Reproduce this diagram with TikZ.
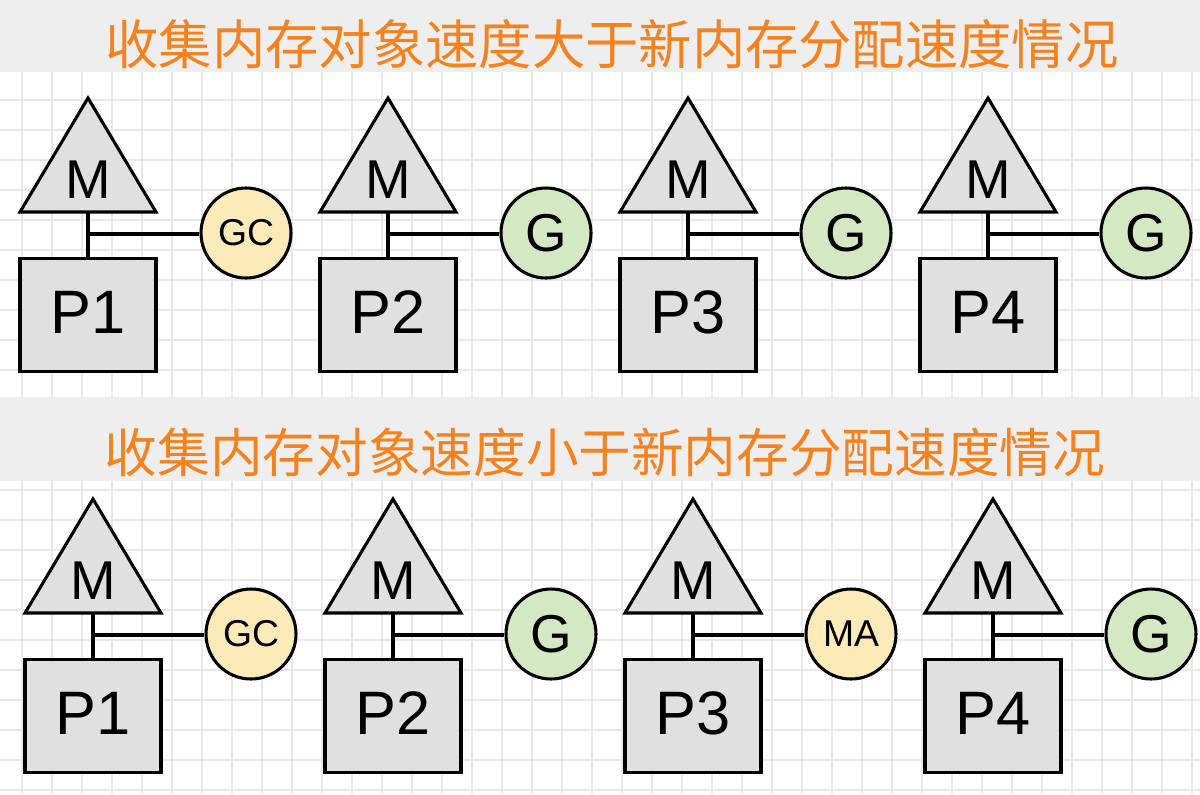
\documentclass[tikz,border=0pt]{standalone}
\usepackage{fontspec}
\setmainfont{Liberation Sans}
\newfontfamily\cjk{Noto Sans CJK SC}
\definecolor{ttl}{HTML}{F5821F}
\definecolor{band}{HTML}{EEEEEE}
\definecolor{gridc}{HTML}{E8E8E8}
\definecolor{shp}{HTML}{E0E0E0}
\definecolor{yel}{HTML}{FCEBB8}
\definecolor{grn}{HTML}{D3E8C3}
\tikzset{
 shape line/.style={draw=black,line width=2.3pt,fill=shp},
 pbox/.style={shape line,rectangle,minimum width=136\pxu,minimum height=113\pxu,inner sep=0pt,font=\fontsize{46pt}{46pt}\selectfont},
 gnode/.style={circle,draw=black,line width=2.3pt,minimum size=90\pxu,inner sep=0pt},
 link/.style={line width=2.3pt},
 title/.style={text=ttl,font=\cjk\fontsize{40pt}{40pt}\selectfont}
}
\newcommand\pxu{*0.75pt}
\newcommand\myunit[6]{% #1 x, #2 y(base of triangle), #3 name, #4 label, #5 fill, #6 font size
 \draw[shape line,line join=miter] (#1,#2-114) -- (#1+68,#2) -- (#1-68,#2) -- cycle;
 \node[font=\fontsize{41pt}{41pt}\selectfont] (m#3) at (#1,#2-32) {M};
 \coordinate (mb#3) at (#1,#2);
 \node[pbox,anchor=north,text depth=0pt,text height=0pt] (p#3) at (#1,#2+45) {\raisebox{-0.3em}{P#3}};
 \coordinate (j#3) at (#1,#2+22);
 \node[gnode,fill=#5,font=\fontsize{#6}{#6}\selectfont] (g#3) at (#1+158,#2+21) {#4};
 \draw[link] (mb#3) -- (p#3.north);
 \draw[link] (j#3) -- (g#3.west |- j#3);
}
\begin{document}
\begin{tikzpicture}[x=0.75pt,y=-0.75pt]
\useasboundingbox (0,0) rectangle (1200,794);
\fill[white] (0,0) rectangle (1200,794);
\foreach \x in {22,52,...,1200} \draw[gridc,line width=1pt] (\x,72) -- (\x,397) (\x,481) -- (\x,794);
\foreach \y in {100,130,...,370} \draw[gridc,line width=1pt] (0,\y) -- (1200,\y);
\foreach \y in {490,520,...,794} \draw[gridc,line width=1pt] (0,\y) -- (1200,\y);
\fill[band] (0,0) rectangle (1200,72);
\fill[band] (0,397) rectangle (1200,481);
\node[title] (t1) at (612,44) {收集内存对象速度大于新内存分配速度情况};
\node[title,font=\cjk\fontsize{39.5pt}{39.5pt}\selectfont] (t2) at (605,452) {收集内存对象速度小于新内存分配速度情况};
\myunit{88}{212}{1}{GC}{yel}{28pt}
\myunit{388}{212}{2}{G}{grn}{40pt}
\myunit{688}{212}{3}{G}{grn}{40pt}
\myunit{988}{212}{4}{G}{grn}{40pt}
\myunit{93}{613}{1}{GC}{yel}{28pt}
\myunit{393}{613}{2}{G}{grn}{40pt}
\myunit{693}{613}{3}{MA}{yel}{28pt}
\myunit{993}{613}{4}{G}{grn}{40pt}
\end{tikzpicture}
\end{document}
